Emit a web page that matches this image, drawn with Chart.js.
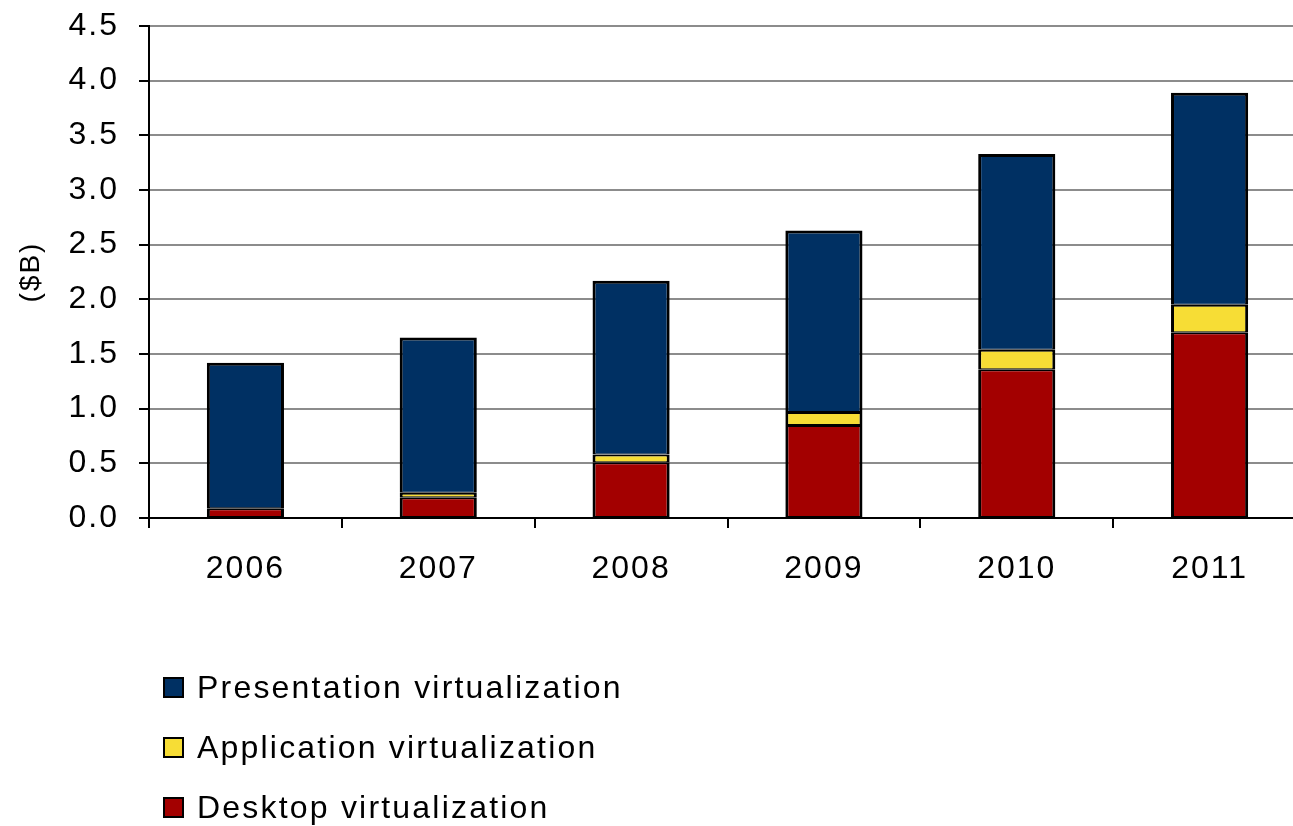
<!DOCTYPE html>
<html>
<head>
<meta charset="utf-8">
<script src="https://cdn.jsdelivr.net/npm/chart.js@4"></script>
<style>
  html, body { margin: 0; padding: 0; background: #fff; overflow: hidden; width: 1293px; height: 826px; }
  #wrap { position: relative; width: 1293px; height: 826px; overflow: hidden; }
  canvas { position: absolute; left: 0; top: 0; }
  #legend { position: absolute; left: 163px; top: 657px; font-family: "Liberation Sans", Arial, sans-serif; font-size: 32px; color: #000; letter-spacing: 2.2px; }
  .item { display: flex; align-items: center; height: 60px; }
  .box { width: 17px; height: 17px; border: 2px solid #000; margin-right: 13px; }
</style>
</head>
<body>
<div id="wrap">
  <canvas id="c" width="1310" height="826"></canvas>
  <div id="legend"></div>
</div>
<script>
const categories = ['2006', '2007', '2008', '2009', '2010', '2011'];
const desktop = [0.09, 0.19, 0.51, 0.85, 1.36, 1.70];
const application = [0.00, 0.04, 0.07, 0.12, 0.18, 0.25];
const presentation = [1.33, 1.42, 1.59, 1.66, 1.79, 1.94];
const seriesNames = ['Desktop virtualization', 'Application virtualization', 'Presentation virtualization'];
const seriesColors = ['#A30000', '#F7DD35', '#003063'];
const yTitle = '($B)';

const FONT = '"Liberation Sans", Arial, sans-serif';

const datasets = [desktop, application, presentation].map((d, i) => ({
  label: seriesNames[i],
  data: d,
  backgroundColor: seriesColors[i],
  borderColor: '#000',
  borderWidth: { top: i === 2 ? 3 : 2, bottom: 1, left: 3, right: 3 },
  borderSkipped: false,
  inflateAmount: 0,
  barPercentage: 0.4,
  categoryPercentage: 1.0
}));

const spacing = {
  id: 'spacing',
  beforeDraw(chart) { chart.ctx.letterSpacing = '2px'; }
};

new Chart(document.getElementById('c'), {
  type: 'bar',
  data: { labels: categories, datasets },
  options: {
    responsive: false,
    animation: false,
    layout: { padding: { top: 26, right: 4, bottom: 198, left: 0 } },
    plugins: { legend: { display: false }, tooltip: { enabled: false } },
    scales: {
      x: {
        stacked: true,
        grid: { display: true, offset: true, drawOnChartArea: false, drawTicks: true, tickLength: 10, color: '#000', lineWidth: 2 },
        border: { display: true, color: '#000', width: 2 },
        ticks: { color: '#000', font: { family: FONT, size: 32 }, padding: 22 },
        afterFit(s) { s.height = 110; s.paddingLeft = 0; s.paddingRight = 0; }
      },
      y: {
        stacked: true,
        min: 0, max: 4.5,
        grid: { color: '#8c8c8c', lineWidth: 2, tickColor: '#000', tickLength: 10, drawTicks: true },
        border: { display: true, color: '#000', width: 2 },
        ticks: { stepSize: 0.5, color: '#000', font: { family: FONT, size: 32 }, padding: 20,
                 callback: v => Number(v).toFixed(1) },
        title: { display: true, text: yTitle, color: '#000', font: { family: FONT, size: 28 }, padding: { top: 14, bottom: 0 } },
        afterFit(s) { s.width = 149; s.paddingTop = 0; s.paddingBottom = 0; }
      }
    }
  },
  plugins: [spacing]
});

const legendEl = document.getElementById('legend');
[2, 1, 0].forEach(i => {
  const it = document.createElement('div');
  it.className = 'item';
  const b = document.createElement('div');
  b.className = 'box';
  b.style.background = seriesColors[i];
  const t = document.createElement('span');
  t.textContent = seriesNames[i];
  it.appendChild(b); it.appendChild(t);
  legendEl.appendChild(it);
});
</script>
</body>
</html>
